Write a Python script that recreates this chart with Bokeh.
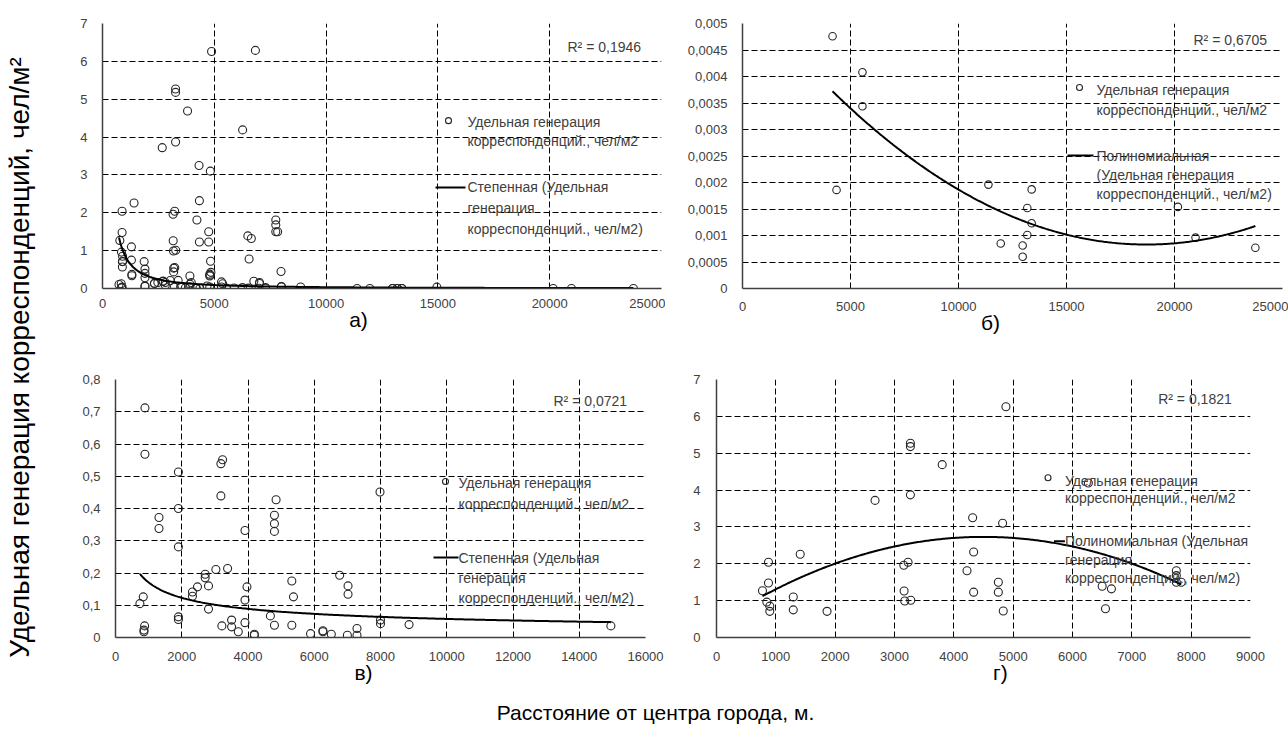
import numpy as np
from bokeh.plotting import figure
from bokeh.layouts import row, column
from bokeh.models import FixedTicker, Label, Range1d, LinearAxis
from bokeh.embed import file_html
from bokeh.resources import INLINE

# ---------------- data ----------------
# panel б
b_x = [4169, 5554, 5554, 4354, 11385, 11957, 12971, 12971, 13185, 13185,
       13388, 13388, 20157, 20974, 23744]
b_y = [0.00476, 0.00408, 0.00344, 0.00186, 0.00196, 0.00085, 0.00081, 0.00060,
       0.00152, 0.00101, 0.00187, 0.00123, 0.00154, 0.00096, 0.00077]

# panel в
v_x = [889, 889, 1899, 1899, 1313, 1313, 1899, 3232, 3182, 3182,
       4848, 4798, 4798, 4798, 3909, 2707, 2707, 3030, 3384, 2475,
       2808, 2323, 2323, 3969, 3909, 2808, 5323, 5373, 6767, 7020,
       7020, 737, 838, 879, 859, 859, 1899, 1899, 3212, 3505,
       3505, 3707, 3909, 4192, 4192, 4676, 4798, 5323, 5888, 6262,
       6262, 6515, 7000, 7290, 7290, 7985, 8000, 8000, 8862, 14955]
v_y = [0.712, 0.568, 0.513, 0.400, 0.372, 0.338, 0.281, 0.551, 0.539, 0.439,
       0.427, 0.379, 0.353, 0.329, 0.332, 0.196, 0.185, 0.211, 0.214, 0.157,
       0.160, 0.141, 0.128, 0.157, 0.116, 0.088, 0.175, 0.126, 0.193, 0.160,
       0.134, 0.105, 0.126, 0.036, 0.023, 0.018, 0.064, 0.056, 0.036, 0.054,
       0.033, 0.018, 0.046, 0.010, 0.007, 0.067, 0.038, 0.038, 0.012, 0.021,
       0.018, 0.010, 0.007, 0.028, 0.007, 0.451, 0.054, 0.043, 0.040, 0.036]

# panel г
g_x = [775, 876, 876, 848, 898, 898, 1411, 1294, 1294, 1863,
       2672, 3268, 3268, 3268, 3804, 4317, 4334, 4222, 4334, 3229,
       3157, 3162, 3173, 3274, 4878, 6267, 4822, 4750, 4750, 4833,
       6500, 6656, 6556, 7750, 7750, 7750, 7833]
g_y = [1.27, 2.04, 1.48, 0.96, 0.85, 0.71, 2.26, 1.10, 0.75, 0.71,
       3.72, 5.27, 5.18, 3.87, 4.69, 3.25, 2.32, 1.81, 1.23, 2.04,
       1.96, 1.26, 0.99, 1.01, 6.26, 4.19, 3.10, 1.50, 1.23, 0.72,
       1.39, 1.32, 0.78, 1.81, 1.68, 1.50, 1.50]

# panel а: all points of б, в, г plus one more
a_extra_x = [6838]
a_extra_y = [6.29]
a_x = b_x + v_x + g_x + a_extra_x
a_y = b_y + v_y + g_y + a_extra_y

# trend lines (coefficients)
a_power = (13900.0, -1.4)
b_poly = [1.369e-11, -5.12e-7, 0.005617]
v_power = (4.45, -0.472)
g_poly = [-1.16e-7, 1.044e-3, 0.381]

r2_texts = ["R² = 0,1946", "R² = 0,6705", "R² = 0,0721", "R² = 0,1821"]

# ticks
a_xticks = [0, 5000, 10000, 15000, 20000, 25000]
a_xlabels = ["0", "5000", "10000", "15000", "20000", "25000"]
a_yticks = [0, 1, 2, 3, 4, 5, 6, 7]
a_ylabels = ["0", "1", "2", "3", "4", "5", "6", "7"]
b_xticks = [0, 5000, 10000, 15000, 20000, 25000]
b_xlabels = ["0", "5000", "10000", "15000", "20000", "25000"]
b_yticks = [0, 0.0005, 0.001, 0.0015, 0.002, 0.0025, 0.003, 0.0035, 0.004, 0.0045, 0.005]
b_ylabels = ["0", "0,0005", "0,001", "0,0015", "0,002", "0,0025", "0,003", "0,0035",
             "0,004", "0,0045", "0,005"]
v_xticks = [0, 2000, 4000, 6000, 8000, 10000, 12000, 14000, 16000]
v_xlabels = ["0", "2000", "4000", "6000", "8000", "10000", "12000", "14000", "16000"]
v_yticks = [0, 0.1, 0.2, 0.3, 0.4, 0.5, 0.6, 0.7, 0.8]
v_ylabels = ["0", "0,1", "0,2", "0,3", "0,4", "0,5", "0,6", "0,7", "0,8"]
g_xticks = [0, 1000, 2000, 3000, 4000, 5000, 6000, 7000, 8000, 9000]
g_xlabels = ["0", "1000", "2000", "3000", "4000", "5000", "6000", "7000", "8000", "9000"]
g_yticks = [0, 1, 2, 3, 4, 5, 6, 7]
g_ylabels = ["0", "1", "2", "3", "4", "5", "6", "7"]

leg_points = ["Удельная генерация", "корреспонденций., чел/м2"]
leg_power = ["Степенная (Удельная", "генерация", "корреспонденций., чел/м2)"]
leg_poly_b = ["Полиномиальная", "(Удельная генерация", "корреспонденций., чел/м2)"]
leg_poly_g = ["Полиномиальная (Удельная", "генерация", "корреспонденций., чел/м2)"]

panel_letters = ["а)", "б)", "в)", "г)"]
x_title = "Расстояние от центра города, м."
y_title = "Удельная генерация корреспонденций, чел/м²"

FONT = "Liberation Sans"
TXT = "#404040"


def make_panel(w, h, cx0, cy0, frame, xr, yr, xticks, xlabels, yticks, ylabels,
               xs, ys, tx, ty, r2, r2_pos, mk_pos, mk_lines, ln_pos, ln_lines,
               letter, letter_px, letter_stand, xstand, ystand, msize=8):
    left, right, top, bottom = frame
    p = figure(width=w, height=h, x_range=Range1d(*xr), y_range=Range1d(*yr),
               output_backend="svg", toolbar_location=None,
               min_border_left=left - cx0, min_border_right=cx0 + w - right,
               min_border_top=top - cy0, min_border_bottom=cy0 + h - bottom)
    p.outline_line_color = None

    def d(px, py):
        return (xr[0] + (px - left) / (right - left) * (xr[1] - xr[0]),
                yr[0] + (bottom - py) / (bottom - top) * (yr[1] - yr[0]))

    for ax, ticks, labels, st in ((p.xaxis[0], xticks, xlabels, xstand),
                                  (p.yaxis[0], yticks, ylabels, ystand)):
        ax.ticker = FixedTicker(ticks=ticks)
        ax.major_label_overrides = dict(zip(ticks, labels))
        ax.major_tick_line_color = None
        ax.minor_tick_line_color = None
        ax.major_tick_out = 0
        ax.major_tick_in = 0
        ax.axis_line_color = "#404040"
        ax.axis_line_width = 1.5
        ax.major_label_text_font = FONT
        ax.major_label_text_font_size = "13px"
        ax.major_label_text_color = TXT
        ax.major_label_standoff = st
    for g, ticks in ((p.xgrid[0], xticks), (p.ygrid[0], yticks)):
        g.ticker = FixedTicker(ticks=ticks)
        g.grid_line_color = "black"
        g.grid_line_dash = "6 3"
        g.grid_line_width = 1

    p.scatter(xs, ys, marker="circle", size=msize, fill_color=None,
              line_color="#262626", line_width=1.1)
    p.line(tx, ty, line_color="black", line_width=2)

    # R^2
    rx, ry = d(*r2_pos)
    p.add_layout(Label(x=rx, y=ry, text=r2, text_font=FONT, text_font_size="14px",
                       text_color=TXT, text_align="left", text_baseline="middle"))
    # legend: marker entry
    mx, my, tx0, ty0, dy = mk_pos
    lx, ly = d(mx, my)
    p.scatter([lx], [ly], marker="circle", size=6, fill_color=None,
              line_color="#262626", line_width=1.1)
    for i, t in enumerate(mk_lines):
        qx, qy = d(tx0, ty0 + i * dy)
        p.add_layout(Label(x=qx, y=qy, text=t, text_font=FONT, text_font_size="14px",
                           text_color=TXT, text_align="left", text_baseline="middle"))
    # legend: line entry
    sx1, sx2, sy, tx1, ty1, dy1 = ln_pos
    a1 = d(sx1, sy)
    a2 = d(sx2, sy)
    p.line([a1[0], a2[0]], [a1[1], a2[1]], line_color="black", line_width=2)
    for i, t in enumerate(ln_lines):
        qx, qy = d(tx1, ty1 + i * dy1)
        p.add_layout(Label(x=qx, y=qy, text=t, text_font=FONT, text_font_size="14px",
                           text_color=TXT, text_align="left", text_baseline="middle"))
    # panel letter as an extra, bare axis below the x axis
    lxd = round(d(letter_px, bottom)[0])
    lab_ax = LinearAxis(ticker=FixedTicker(ticks=[lxd]),
                        major_label_overrides={lxd: letter},
                        axis_line_color=None, major_tick_line_color=None,
                        minor_tick_line_color=None, major_tick_out=0, major_tick_in=0,
                        major_label_text_font=FONT, major_label_text_font_size="21px",
                        major_label_text_color="black",
                        major_label_standoff=letter_stand)
    p.add_layout(lab_ax, "below")
    return p


def power_curve(xs, coef):
    t = np.linspace(min(xs), max(xs), 300)
    return t, coef[0] * t ** coef[1]


def poly_curve(xs, coef):
    t = np.linspace(min(xs), max(xs), 300)
    return t, np.polyval(coef, t)


atx, aty = power_curve(a_x, a_power)
btx, bty = poly_curve(b_x, b_poly)
vtx, vty = power_curve(v_x, v_power)
gtx, gty = poly_curve(g_x, g_poly)

ROW1_H = 348
ROW2_Y = 348
ROW2_H = 344
XT_Y = ROW2_Y + ROW2_H

fa = make_panel(625, ROW1_H, 40, 0, (102, 661, 23, 293), (0, 25000), (0, 7),
                a_xticks, a_xlabels, a_yticks, a_ylabels, a_x, a_y, atx, aty,
                r2_texts[0], (567, 47),
                (448, 122, 467, 123, 20), leg_points,
                (435, 465, 190, 467, 190, 21), leg_power,
                panel_letters[0], 358, -3, 10, 15)
fb = make_panel(623, ROW1_H, 665, 0, (742, 1282, 23, 288), (0, 25000), (0, 0.005),
                b_xticks, b_xlabels, b_yticks, b_ylabels, b_x, b_y, btx, bty,
                r2_texts[1], (1193, 39),
                (1079, 87, 1096, 89, 20), leg_points,
                (1067, 1093, 155, 1096, 155, 19), leg_poly_b,
                panel_letters[1], 990, -3, 13, 15, msize=7.5)
fc = make_panel(650, ROW2_H, 40, ROW2_Y, (115, 645, 379, 637), (0, 16000), (0, 0.8),
                v_xticks, v_xlabels, v_yticks, v_ylabels, v_x, v_y, vtx, vty,
                r2_texts[2], (553, 400),
                (445, 481, 458, 482, 21), leg_points,
                (433, 458, 557, 458, 557, 20), leg_power,
                panel_letters[2], 363, -3, 14, 15)
fd = make_panel(598, ROW2_H, 690, ROW2_Y, (712, 1250, 379, 639), (0, 9000), (0, 7),
                g_xticks, g_xlabels, g_yticks, g_ylabels, g_x, g_y, gtx, gty,
                r2_texts[3], (1157, 399),
                (1046, 478, 1063, 481, 17), leg_points,
                (1052, 1063, 542, 1063, 542, 18.5), leg_poly_g,
                panel_letters[3], 998, -3, 14, 16)

# global titles
yfig = figure(width=40, height=738, x_range=Range1d(0, 40), y_range=Range1d(-738, 0),
              output_backend="svg", toolbar_location=None,
              x_axis_type=None, y_axis_type=None, min_border=0)
yfig.outline_line_color = None
yfig.xgrid.visible = False
yfig.ygrid.visible = False
yfig.add_layout(Label(x=19, y=-357, text=y_title, angle=np.pi / 2, text_font=FONT,
                      text_font_size="28px", text_color="black",
                      text_align="center", text_baseline="middle"))

xfig = figure(width=1248, height=738 - XT_Y, x_range=Range1d(40, 1288),
              y_range=Range1d(-738, -XT_Y),
              output_backend="svg", toolbar_location=None,
              x_axis_type=None, y_axis_type=None, min_border=0)
xfig.outline_line_color = None
xfig.xgrid.visible = False
xfig.ygrid.visible = False
xfig.add_layout(Label(x=655, y=-712, text=x_title, text_font=FONT,
                      text_font_size="21px", text_color="black",
                      text_align="center", text_baseline="middle"))

layout = row(yfig, column(row(fa, fb), row(fc, fd), xfig))

open("out.html", "w").write(file_html(layout, INLINE))
